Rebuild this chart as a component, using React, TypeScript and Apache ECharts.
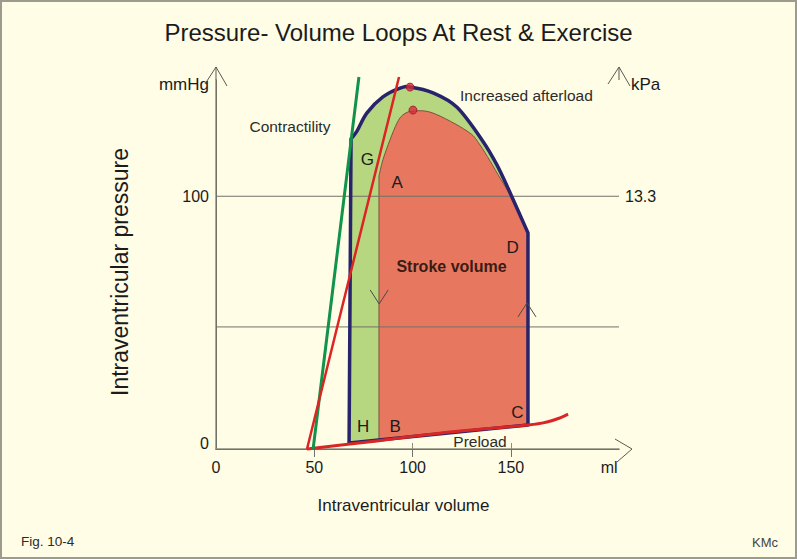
import React, { useEffect, useRef } from "react";
import * as echarts from "echarts";

const FONT = "'Liberation Sans', Arial, Helvetica, sans-serif";

// ---- axes ----
const volumeMin = 0;
const volumeMax = 205;
const pressureMin = 0;
const pressureMax = 146;
const volumeTickValues = [50, 100, 150];
const volumeLabelValues = [0, 50, 100, 150, 200];
const volumeLabels = ["0", "50", "100", "150", "ml"];
const pressureLabelValues = [0, 100, 146];
const pressureLabels = ["0", "100", "mmHg"];
const kpaLabelValues = [100, 146];
const kpaLabels = ["13.3", "kPa"];
const gridLineValues = [100, 48.3];

// ---- exercise loop (outer, green) : [volume ml, pressure mmHg] ----
const exerciseLoopEdge = [[67.7, 2.4], [68.7, 122.7]];
const exerciseLoopTop = [
  [68.7, 122.7], [71.7, 125.8], [76.8, 133.0], [84.9, 139.3], [93.6, 142.8],
  [98.7, 143.2], [110.4, 140.9], [122.6, 135.2], [135.3, 122.3], [142.9, 112.4],
  [150.1, 100.5], [158.7, 85.5],
];
const exerciseLoopClose = [[158.7, 9.5], [67.7, 2.4]];

// ---- rest loop (inner, red) ----
const restLoopEdge = [[82.9, 3.3], [82.9, 108.0]];
const restLoopTop = [
  [82.9, 108.0], [84.9, 114.4], [88.5, 122.3], [92.1, 129.0], [95.1, 132.2],
  [100.2, 133.7], [110.4, 132.9], [127.7, 125.8], [134.3, 120.3], [144.5, 107.2],
  [150.1, 99.7], [158.7, 85.5],
];
const restLoopClose = [[158.7, 9.5], [82.9, 3.3]];

// ---- pressure-volume relations ----
const edpvr = [[46.3, 0], [82.9, 3.3], [119.0, 6.7], [158.7, 9.5], [168.4, 10.7], [175.0, 12.3], [179.1, 13.8]];
const espvrRest = [[46.3, 0], [93.1, 147.2]];
const espvrExercise = [[49.4, 0], [72.7, 147.2]];

// ---- end-systolic points ----
const dotPoints = [[98.7, 143.2], [100.2, 134.1]];

// ---- flow arrows ----
const flowArrowX = [83.0, 158.2];
const flowArrowY = [57.4, 57.8];
const flowArrowDir = [1, -1]; // 1 down, -1 up

// ---- axis end arrows ----
const axisArrowX = [volumeMin, volumeMax, volumeMax];
const axisArrowY = [pressureMax, pressureMax, pressureMin];
const axisArrowDir = [0, 0, 1]; // 0 up, 1 right

// ---- labels ----
const letterNames = ["G", "A", "D", "H", "B", "C"];
const letterX = [77.0, 92.2, 150.9, 74.9, 91.1, 153.3];
const letterY = [114.6, 105.4, 79.8, 9.1, 9.1, 14.5];
const noteTexts = ["Contractility", "Increased afterload", "Preload"];
const noteX = [37.6, 157.9, 134.3];
const noteY = [127.5, 139.7, 2.9];
const strokeText = ["Stroke volume"];
const strokeX = [119.8];
const strokeY = [72.1];

const axisGrey = "#8e8e80";
const gridGrey = "#727268";
const textDark = "#1b1b1b";

function catmull(pts: number[][]): string {
  let d = "";
  for (let i = 0; i < pts.length - 1; i++) {
    const p0 = pts[i - 1] || pts[i];
    const p1 = pts[i];
    const p2 = pts[i + 1];
    const p3 = pts[i + 2] || p2;
    const c1x = p1[0] + (p2[0] - p0[0]) / 6;
    const c1y = p1[1] + (p2[1] - p0[1]) / 6;
    const c2x = p2[0] - (p3[0] - p1[0]) / 6;
    const c2y = p2[1] - (p3[1] - p1[1]) / 6;
    d += ` C${c1x},${c1y} ${c2x},${c2y} ${p2[0]},${p2[1]}`;
  }
  return d;
}

export default function App() {
  const ref = useRef<HTMLDivElement>(null);

  useEffect(() => {
    const chart = echarts.init(ref.current!, null, { renderer: "svg" });
    const px = (api: any, pts: number[][]) => pts.map((p) => api.coord(p));

    const loopPath = (api: any, edge: number[][], top: number[][], close: number[][]) => {
      const e = px(api, edge);
      const t = px(api, top);
      const c = px(api, close);
      let d = `M${e[0][0]},${e[0][1]}`;
      for (let i = 1; i < e.length; i++) d += ` L${e[i][0]},${e[i][1]}`;
      d += catmull(t);
      for (const q of c) d += ` L${q[0]},${q[1]}`;
      return d + " Z";
    };
    const curvePath = (api: any, pts: number[][]) => {
      const p = px(api, pts);
      return `M${p[0][0]},${p[0][1]}` + catmull(p);
    };

    const shape = (name: string, z: number, fn: (api: any) => any) => ({
      type: "custom",
      name,
      coordinateSystem: "cartesian2d",
      data: [[volumeMin, pressureMin]],
      z,
      silent: true,
      clip: false,
      renderItem: (_p: any, api: any) => fn(api),
    });

    const textSeries = (name: string, xs: number[], ys: number[], texts: string[], style: any) => ({
      type: "custom",
      name,
      coordinateSystem: "cartesian2d",
      data: xs.map((x, i) => [x, ys[i]]),
      z: 8,
      silent: true,
      clip: false,
      renderItem: (params: any, api: any) => {
        const p = api.coord([api.value(0), api.value(1)]);
        return {
          type: "text",
          x: p[0],
          y: p[1],
          style: {
            text: texts[params.dataIndex],
            align: "center",
            verticalAlign: "middle",
            fontFamily: FONT,
            ...style,
          },
        };
      },
    });

    const option: any = {
      animation: false,
      backgroundColor: "#fffde6",
      textStyle: { fontFamily: FONT },
      title: {
        text: "Pressure- Volume Loops At Rest & Exercise",
        left: "center",
        top: 15,
        textStyle: { fontSize: 24, fontWeight: "normal", color: textDark, fontFamily: FONT },
      },
      grid: { left: 216, top: 80, width: 403, height: 369 },
      xAxis: [
        {
          type: "value",
          position: "bottom",
          min: volumeMin,
          max: volumeMax,
          name: "Intraventricular volume",
          nameLocation: "middle",
          nameGap: 48,
          nameTextStyle: { fontSize: 17, color: textDark, fontFamily: FONT, padding: [0, 28, 0, 0] },
          axisLine: { show: true, lineStyle: { color: axisGrey, width: 1.5 } },
          axisTick: { show: true, inside: true, length: 6, customValues: volumeTickValues, lineStyle: { color: axisGrey } },
          axisLabel: {
            customValues: volumeLabelValues,
            formatter: (v: number) => volumeLabels[volumeLabelValues.indexOf(v)] ?? "",
            fontSize: 16,
            color: textDark,
            margin: 10,
            fontFamily: FONT,
          },
          splitLine: { show: false },
        },
        {
          type: "value",
          position: "top",
          min: volumeMin,
          max: volumeMax,
          axisLine: { show: true, lineStyle: { color: gridGrey, width: 1 } },
          axisTick: { show: true, inside: true, length: 8, customValues: volumeTickValues, lineStyle: { color: gridGrey } },
          axisLabel: { show: false },
          splitLine: { show: false },
        },
      ],
      yAxis: [
        {
          type: "value",
          position: "left",
          min: pressureMin,
          max: pressureMax,
          name: "Intraventricular pressure",
          nameLocation: "middle",
          nameGap: 85,
          nameTextStyle: { fontSize: 23, color: textDark, fontFamily: FONT, padding: [0, 15, 0, 0] },
          axisLine: { show: true, lineStyle: { color: axisGrey, width: 1.5 } },
          axisTick: { show: false },
          axisLabel: {
            customValues: pressureLabelValues,
            formatter: (v: number) => {
              const i = pressureLabelValues.indexOf(v);
              if (i < 0) return "";
              if (v === pressureMax) return `{u|${pressureLabels[i]}}`;
              if (v === pressureMin) return `{z|${pressureLabels[i]}}`;
              return pressureLabels[i];
            },
            rich: {
              u: { fontSize: 17, color: textDark, fontFamily: FONT, padding: [8, 0, 0, 0] },
              z: { fontSize: 16, color: textDark, fontFamily: FONT, padding: [0, 0, 12, 0] },
            },
            fontSize: 16,
            color: textDark,
            margin: 7,
            fontFamily: FONT,
          },
          splitLine: { show: false },
        },
        {
          type: "value",
          position: "right",
          min: pressureMin,
          max: pressureMax,
          axisLine: { show: true, lineStyle: { color: gridGrey, width: 1 } },
          axisTick: { show: false },
          axisLabel: {
            customValues: kpaLabelValues,
            formatter: (v: number) => {
              const i = kpaLabelValues.indexOf(v);
              if (i < 0) return "";
              if (v === pressureMax) return `{u|${kpaLabels[i]}}`;
              return kpaLabels[i];
            },
            rich: {
              u: { fontSize: 17, color: textDark, fontFamily: FONT, padding: [8, 0, 0, 6] },
            },
            fontSize: 16,
            color: textDark,
            margin: 6,
            fontFamily: FONT,
          },
          splitLine: { show: false },
        },
      ],
      graphic: [
        {
          type: "rect",
          shape: { x: 1, y: 1, width: 795, height: 557 },
          style: { fill: "none", stroke: "#9c9c8e", lineWidth: 2 },
          silent: true,
        },
        {
          type: "text",
          left: 21,
          top: 534,
          style: { text: "Fig. 10-4", fontSize: 13.5, fill: "#2a2a2a", fontFamily: FONT },
        },
        {
          type: "text",
          right: 19,
          top: 536,
          style: { text: "KMc", fontSize: 13, fill: "#444", fontFamily: FONT },
        },
      ],
      series: [
        shape("exercise fill", 2, (api) => ({
          type: "path",
          shape: { pathData: loopPath(api, exerciseLoopEdge, exerciseLoopTop, exerciseLoopClose) },
          style: { fill: "#b6d780", stroke: "none" },
        })),
        shape("rest fill", 2, (api) => ({
          type: "path",
          shape: { pathData: loopPath(api, restLoopEdge, restLoopTop, restLoopClose) },
          style: { fill: "#e8775f", stroke: "#7d5140", lineWidth: 1 },
        })),
        {
          type: "custom",
          name: "grid lines",
          coordinateSystem: "cartesian2d",
          data: gridLineValues.map((v) => [volumeMin, v]),
          z: 3,
          silent: true,
          renderItem: (_p: any, api: any) => {
            const a = api.coord([volumeMin, api.value(1)]);
            const b = api.coord([volumeMax, api.value(1)]);
            return {
              type: "line",
              shape: { x1: a[0], y1: a[1], x2: b[0], y2: b[1] },
              style: { stroke: gridGrey, lineWidth: 1 },
            };
          },
        },
        shape("exercise outline", 4, (api) => ({
          type: "path",
          shape: { pathData: loopPath(api, exerciseLoopEdge, exerciseLoopTop, exerciseLoopClose) },
          style: { fill: "none", stroke: "#27246c", lineWidth: 3.5, lineJoin: "round" },
        })),
        shape("EDPVR", 5, (api) => ({
          type: "path",
          shape: { pathData: curvePath(api, edpvr) },
          style: { fill: "none", stroke: "#d82626", lineWidth: 3 },
        })),
        shape("ESPVR exercise", 5, (api) => ({
          type: "path",
          shape: { pathData: curvePath(api, espvrExercise) },
          style: { fill: "none", stroke: "#10934a", lineWidth: 3 },
        })),
        shape("ESPVR rest", 5, (api) => ({
          type: "path",
          shape: { pathData: curvePath(api, espvrRest) },
          style: { fill: "none", stroke: "#dc2424", lineWidth: 2.5 },
        })),
        {
          type: "scatter",
          name: "end-systole",
          data: dotPoints,
          symbol: "circle",
          symbolSize: 8,
          z: 6,
          silent: true,
          itemStyle: { color: "#d62a3c", borderColor: "#9c1525", borderWidth: 1 },
        },
        {
          type: "custom",
          name: "flow arrows",
          coordinateSystem: "cartesian2d",
          data: flowArrowX.map((x, i) => [x, flowArrowY[i]]),
          z: 7,
          silent: true,
          renderItem: (params: any, api: any) => {
            const p = api.coord([api.value(0), api.value(1)]);
            const d = flowArrowDir[params.dataIndex];
            return {
              type: "polyline",
              shape: { points: [[p[0] - 9, p[1] - 14 * d], [p[0], p[1]], [p[0] + 9, p[1] - 14 * d]] },
              style: { fill: "none", stroke: "#4a4a44", lineWidth: 1 },
            };
          },
        },
        {
          type: "custom",
          name: "axis arrows",
          coordinateSystem: "cartesian2d",
          data: axisArrowX.map((x, i) => [x, axisArrowY[i]]),
          z: 7,
          silent: true,
          clip: false,
          renderItem: (params: any, api: any) => {
            const p = api.coord([api.value(0), api.value(1)]);
            const dir = axisArrowDir[params.dataIndex];
            if (dir === 0) {
              const ax = p[0], ay = p[1] - 13;
              return {
                type: "group",
                children: [
                  { type: "line", shape: { x1: p[0], y1: p[1], x2: ax, y2: ay }, style: { stroke: gridGrey, lineWidth: 1.2 } },
                  {
                    type: "polyline",
                    shape: { points: [[ax - 11, ay + 17], [ax, ay], [ax + 11, ay + 19]] },
                    style: { fill: "none", stroke: "#5a5a52", lineWidth: 1 },
                  },
                ],
              };
            }
            const ax = p[0] + 13, ay = p[1];
            return {
              type: "polyline",
              shape: { points: [[ax - 17, ay - 10], [ax, ay], [ax - 15, ay + 13]] },
              style: { fill: "none", stroke: "#5a5a52", lineWidth: 1 },
            };
          },
        },
        textSeries("letters", letterX, letterY, letterNames, { fontSize: 17, fill: textDark }),
        textSeries("notes", noteX, noteY, noteTexts, { fontSize: 15.5, fill: "#2c2c2c" }),
        textSeries("stroke volume", strokeX, strokeY, strokeText, { fontSize: 16, fontWeight: "bold", fill: "#3a1c14" }),
      ],
    };

    chart.setOption(option);
    return () => chart.dispose();
  }, []);

  return <div ref={ref} style={{ position: "fixed", left: 0, top: 0, width: 797, height: 559 }} />;
}
